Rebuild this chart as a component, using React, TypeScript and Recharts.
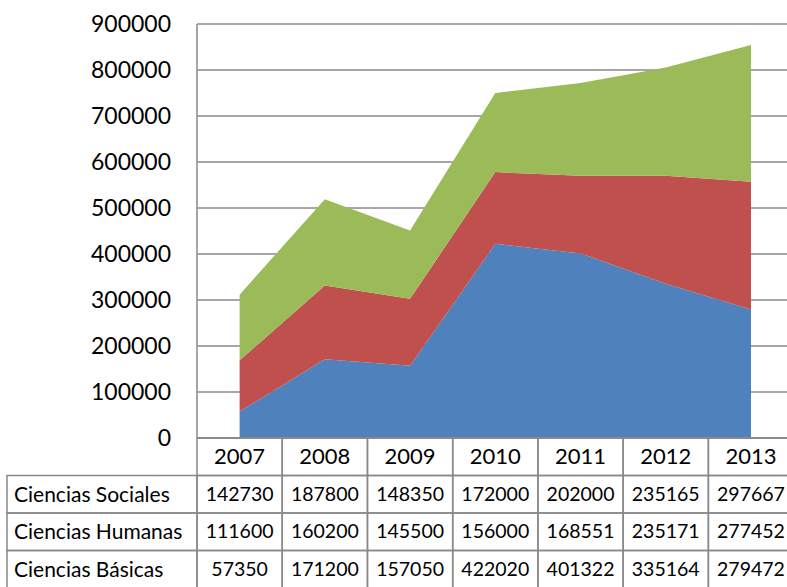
import React from 'react';
import { AreaChart, Area, XAxis, YAxis, CartesianGrid } from 'recharts';

const years = ['2007', '2008', '2009', '2010', '2011', '2012', '2013'];
const cienciasSociales = [142730, 187800, 148350, 172000, 202000, 235165, 297667];
const cienciasHumanas = [111600, 160200, 145500, 156000, 168551, 235171, 277452];
const cienciasBasicas = [57350, 171200, 157050, 422020, 401322, 335164, 279472];
const yTicks = [0, 100000, 200000, 300000, 400000, 500000, 600000, 700000, 800000, 900000];

// stacked bottom -> top
const series = [
  { key: 'basicas', label: 'Ciencias Básicas', values: cienciasBasicas, color: '#4F81BD' },
  { key: 'humanas', label: 'Ciencias Humanas', values: cienciasHumanas, color: '#C0504D' },
  { key: 'sociales', label: 'Ciencias Sociales', values: cienciasSociales, color: '#9BBB59' },
];
// data table lists them top -> bottom
const tableRows = [...series].reverse();

const data = years.map((year, i) => {
  const row: Record<string, string | number> = { year };
  series.forEach((s) => { row[s.key] = s.values[i]; });
  return row;
});

const CHART_W = 800;
const CHART_H = 587;
const PLOT_LEFT = 197;
const PLOT_RIGHT = 793.6;
const PLOT_TOP = 24;
const PLOT_BOTTOM = 438;
const BAND = (PLOT_RIGHT - PLOT_LEFT) / years.length;
const ROW_H = 37.5;
const TABLE_LEFT = 7;
const GRID = '#898989';
const FONT = 'Lato, "DejaVu Sans", sans-serif';

const TableTick = (props: any) => {
  const { x, y, payload } = props;
  const idx = props.index ?? payload.index;
  const left = x - BAND / 2;
  return (
    <g fontFamily={FONT} fill="#000">
      <rect x={left} y={y} width={BAND} height={ROW_H} fill="none" stroke={GRID} strokeWidth={1.5} />
      <text x={x} y={y + ROW_H / 2 - 1} textAnchor="middle" dominantBaseline="central" fontSize={22}>
        {payload.value}
      </text>
      {tableRows.map((s, j) => {
        const ry = y + ROW_H * (j + 1);
        return (
          <g key={s.key}>
            <rect x={left} y={ry} width={BAND} height={ROW_H} fill="none" stroke={GRID} strokeWidth={1.5} />
            <text x={x} y={ry + ROW_H / 2 - 1} textAnchor="middle" dominantBaseline="central" fontSize={19.5}>
              {s.values[idx]}
            </text>
          </g>
        );
      })}
      {idx === 0 &&
        tableRows.map((s, j) => {
          const ry = y + ROW_H * (j + 1);
          return (
            <g key={'l' + s.key}>
              <rect x={TABLE_LEFT} y={ry} width={left - TABLE_LEFT} height={ROW_H} fill="none" stroke={GRID} strokeWidth={1.5} />
              <text x={TABLE_LEFT + 7} y={ry + ROW_H / 2 - 1} textAnchor="start" dominantBaseline="central" fontSize={21}>
                {s.label}
              </text>
            </g>
          );
        })}
    </g>
  );
};

export default function App() {
  return (
    <div style={{ position: 'absolute', left: 0, top: 0, width: 787, height: 587, overflow: 'hidden', background: '#fff' }}>
      <AreaChart
        width={CHART_W}
        height={CHART_H}
        data={data}
        margin={{ top: PLOT_TOP, right: CHART_W - PLOT_RIGHT, left: 0, bottom: 0 }}
      >
        <CartesianGrid vertical={false} stroke={GRID} strokeWidth={1.5} />
        <XAxis
          dataKey="year"
          height={CHART_H - PLOT_BOTTOM}
          padding={{ left: BAND / 2, right: BAND / 2 }}
          axisLine={{ stroke: GRID, strokeWidth: 1.5 }}
          tickLine={false}
          tickSize={0}
          tickMargin={0}
          interval={0}
          tick={<TableTick />}
        />
        <YAxis
          width={PLOT_LEFT}
          domain={[0, 900000]}
          ticks={yTicks}
          interval={0}
          axisLine={{ stroke: GRID, strokeWidth: 1.5 }}
          tickLine={false}
          tickSize={0}
          tickMargin={26}
          tick={{ fontSize: 23, fill: '#000', fontFamily: FONT }}
        />
        {series.map((s) => (
          <Area
            key={s.key}
            type="linear"
            dataKey={s.key}
            name={s.label}
            stackId="1"
            stroke="none"
            fill={s.color}
            fillOpacity={1}
            dot={false}
            activeDot={false}
            isAnimationActive={false}
          />
        ))}
      </AreaChart>
    </div>
  );
}
